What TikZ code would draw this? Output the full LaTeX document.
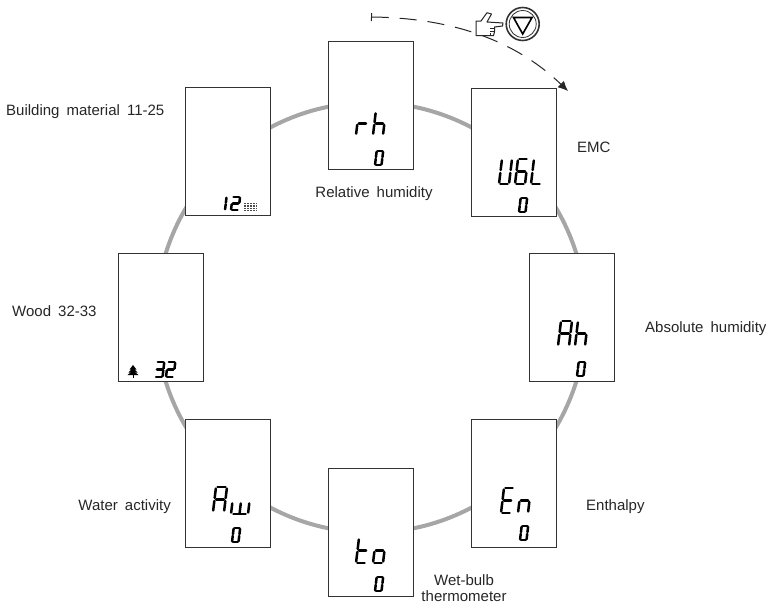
\documentclass[tikz,border=0pt]{standalone}
\usepackage{fontspec}
\setmainfont{Liberation Sans}[WordSpace=1.7]
\usetikzlibrary{arrows.meta}
\def\sega{(.14,2)--(.86,2)}
\def\segb{(1,1.88)--(1,1.12)}
\def\segc{(1,.88)--(1,.12)}
\def\segd{(.14,0)--(.86,0)}
\def\sege{(0,.88)--(0,.12)}
\def\segf{(0,1.88)--(0,1.12)}
\def\segg{(.14,1)--(.86,1)}
\def\segm{(.5,.88)--(.5,.12)}
\newcommand\lcdglyph[5]{%
  \begin{scope}[shift={(#1,#2)},x={(#3 pt,0pt)},y={({.06*#4 pt},{.5*#4 pt})}]
    \foreach \s in {#5}{%
      \expandafter\let\expandafter\cursg\csname seg\s\endcsname
      \draw[lcdseg] \cursg;}
  \end{scope}}
\tikzset{
  lcdbox/.style={draw=black!80,line width=1.1pt,fill=white,minimum width=85pt,minimum height=128pt,inner sep=0pt},
  lab/.style={font=\fontsize{15}{16}\selectfont,inner sep=0pt,text=black!85,align=center},
  lcdseg/.style={line width=2.5pt,line cap=round,black},
  ringline/.style={draw=black!35,line width=4pt}
}
\begin{document}
\begin{tikzpicture}[x=1pt,y=-1pt]
\useasboundingbox (0,0) rectangle (766,605);
\node[ringline,circle,minimum size=430pt,inner sep=0pt] (ring) at (371,317.5) {};
\node[lcdbox] (rh) at (371,105.5) {};
\node[lcdbox] (emc) at (514,152.5) {};
\node[lcdbox] (ah) at (572,317.5) {};
\node[lcdbox] (en) at (514,483.5) {};
\node[lcdbox] (to) at (371,532.5) {};
\node[lcdbox] (aw) at (228,483.5) {};
\node[lcdbox] (wood) at (161,317.5) {};
\node[lcdbox] (bm) at (228,151.5) {};
% labels
\node[lab,anchor=west] (lbm) at (6,112) {Building material 11-25};
\node[lab] (lrh) at (374,193.5) {Relative humidity};
\node[lab,anchor=west] (lemc) at (577,147) {EMC};
\node[lab,anchor=west] (lah) at (645,329) {Absolute humidity};
\node[lab,anchor=west] (len) at (586,507) {Enthalpy};
\node[lab] (lto) at (464,588.5) {Wet-bulb\\thermometer};
\node[lab,anchor=east] (law) at (171,507) {Water activity};
\node[lab,anchor=west] (lwood) at (12,311) {Wood 32-33};
% readouts
\lcdglyph{356}{135}{10}{23}{e,g}
\lcdglyph{373}{135}{10}{23}{f,e,g,c}
\lcdglyph{375}{165}{6.5}{14}{a,b,c,d,e,f}
\lcdglyph{499}{184}{10}{25}{f,e,d,c,b}
\lcdglyph{515}{184}{10}{25}{a,f,g,e,d,c}
\lcdglyph{531}{184}{10}{25}{f,e,d}
\lcdglyph{519}{212}{6.5}{14}{a,b,c,d,e,f}
\lcdglyph{558}{346}{11}{25}{a,b,c,e,f,g}
\lcdglyph{575}{346}{10}{25}{f,e,g,c}
\lcdglyph{577}{376}{6.5}{14}{a,b,c,d,e,f}
\lcdglyph{501}{513}{10}{25}{a,f,g,e,d}
\lcdglyph{518}{513}{10}{25}{e,g,c}
\lcdglyph{520}{540}{6.5}{14}{a,b,c,d,e,f}
\lcdglyph{356}{563}{10}{25}{f,e,g,d}
\lcdglyph{373}{563}{10}{25}{e,g,c,d}
\lcdglyph{375}{591}{6.5}{14}{a,b,c,d,e,f}
\lcdglyph{213}{512}{11}{25}{a,b,c,e,f,g}
\lcdglyph{231}{514}{17}{24}{e,d,c,m}
\lcdglyph{232}{542}{6.5}{14}{a,b,c,d,e,f}
\lcdglyph{155}{377}{7.5}{15}{a,b,c,d,g}
\lcdglyph{166}{377}{7.5}{15}{a,b,g,e,d}
\lcdglyph{224}{210}{1}{13}{b,c}
\lcdglyph{231}{210}{7.5}{13}{a,b,g,e,d}
% brick
\fill[black!70] (243.5,202.5) rectangle (257,211);
\foreach \yy in {204.5,207,209.5}{\draw[white,line width=.35pt] (243.5,\yy) -- (257,\yy);}
\foreach \xx in {246,249,252,255}{\draw[white,line width=.3pt] (\xx,202.5) -- (\xx,211);}
% tree
\fill (133,365) -- (136.5,369.5) -- (129.5,369.5) -- cycle;
\fill (133,367.5) -- (137.5,372.5) -- (128.5,372.5) -- cycle;
\fill (133,370.5) -- (138.5,375) -- (127.5,375) -- cycle;
\draw[line width=1pt] (133,372) -- (133,378);
% arrow
\coordinate (st) at (371,17);
\coordinate (en2) at (568,91);
\draw[black!85,line width=1pt,dash pattern=on 17pt off 11pt,{Bar[width=8pt,line width=1pt]}-{Latex[length=10pt,width=9pt]}] (st) .. controls (460,18) and (520,45) .. (en2);
% hand and key
\draw[black!85,line width=1pt,fill=white,line join=round] (476,21) -- (476,35.7) -- (493.5,35.7) -- (494.5,31.7) -- (494.5,27) -- (502.5,26) -- (503,23) -- (487,22) -- (491.5,14) -- (487,12.7) -- (481,21) -- cycle;
\draw[black!85,line width=.7pt] (490,36)--(490,33) (494,31)--(490,31) (494,28)--(490,28);
\node[circle,draw=black!80,fill=white,line width=1.6pt,minimum size=33pt,inner sep=0pt] (key) at (522.7,24) {};
\node[circle,draw=black!80,line width=.8pt,minimum size=27pt,inner sep=0pt] (keyin) at (key) {};
\draw[black,line width=1.6pt,line join=miter] (513.5,17.5) -- (532,17.5) -- (522.7,34) -- cycle;
\end{tikzpicture}
\end{document}
